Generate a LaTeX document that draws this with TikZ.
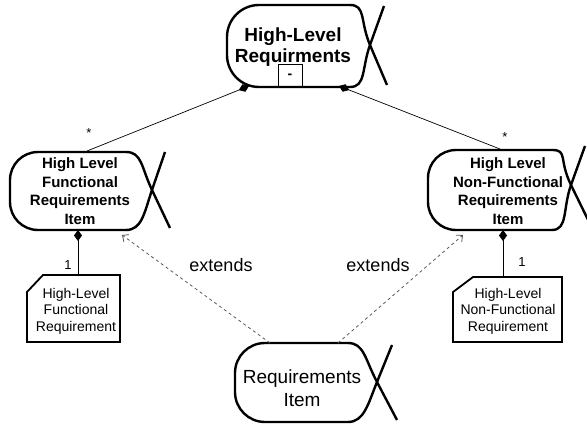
\documentclass[tikz,border=0pt]{standalone}
\usepackage{fontspec}
\setmainfont{Liberation Sans}
\usetikzlibrary{arrows.meta,calc,positioning}
% rounded body with a crossed tail: left, right, bottom, top, radius, crossing, top tip, bottom tip
\newcommand{\fishbody}[8]{%
  \draw[fishline,rounded corners=#5] (#2,#4) -- (#1,#4) -- (#1,#3) -- (#2,#3);
  \draw[fishline] (#2,#4) .. controls +(16,0) and ($#6!-0.6!#8$) .. #6 -- #8;
  \draw[fishline] (#2,#3) .. controls +(16,0) and ($#6!-0.6!#7$) .. #6 -- #7;
}

\begin{document}
\begin{tikzpicture}[x=1pt,y=1pt,>=Stealth,
  fishline/.style={line width=2.4pt,line join=round},
  reqbox/.style={line width=1.8pt},
  assoc/.style={line width=0.7pt},
  extline/.style={dashed,gray!70!black,line width=0.8pt,-{Straight Barb[length=5pt,width=9pt]}},
  topname/.style={font=\fontsize{19}{21}\selectfont\bfseries,align=center},
  itemname/.style={font=\fontsize{15}{18.5}\selectfont\bfseries,align=center},
  rootname/.style={font=\fontsize{19}{23}\selectfont,align=center},
  reqname/.style={font=\fontsize{14}{16.5}\selectfont,align=center},
  mult/.style={font=\fontsize{13}{13}\selectfont},
  compo/.style={assoc,{Diamond[length=11pt,width=8pt]}-}]
\useasboundingbox (0,0) rectangle (587,429);

% high-level requirements
\fishbody{227}{350}{342}{424}{32}{(370,384)}{(384,423)}{(387,344)}
\node[topname] (hlr) at (293,382) {High-Level\\Requirments};
\draw[assoc] (278,342) |- (302,365) -- (302,342);
\node[font=\fontsize{14}{14}\selectfont\bfseries] (vis) at (290,353) {-};
\coordinate (hlr-l) at (249,343);
\coordinate (hlr-r) at (339,343);

% functional item
\fishbody{10}{126}{199}{277}{28}{(152,239)}{(165,277)}{(170,201)}
\node[itemname] (hlf) at (80,238) {High Level\\Functional\\Requirements\\Item};
\coordinate (hlf-t) at (87,278);
\coordinate (hlf-b) at (78,199);
\coordinate (hlf-e) at (122,194);

% non-functional item
\fishbody{428}{552}{199}{279}{28}{(571,244)}{(585,283)}{(592,201)}
\node[itemname] (hlnf) at (508,238) {High Level\\Non-Functional\\Requirements\\Item};
\coordinate (hlnf-t) at (500,280);
\coordinate (hlnf-b) at (503,199);
\coordinate (hlnf-e) at (463,194);

% requirements item
\fishbody{235}{348}{7}{86}{30}{(377,47)}{(392,84)}{(397,9)}
\node[rootname] (ri) at (302,41) {Requirements\\Item};
\coordinate (ri-l) at (270,86);
\coordinate (ri-r) at (338,86);

% requirement boxes
\draw[reqbox] (43,154) -- (120,154) -- (120,87) -- (27,87) -- (27,137) -- cycle;
\node[reqname] (flr) at (76,118) {High-Level\\Functional\\Requirement};
\coordinate (flr-t) at (78,154);
\draw[reqbox] (473,152) -- (562,152) -- (562,87) -- (453,87) -- (453,137) -- cycle;
\node[reqname] (nflr) at (508,118) {High-Level\\Non-Functional\\Requirement};
\coordinate (nflr-t) at (503,152);

% compositions
\draw[compo] (hlr-l) -- (hlf-t);
\draw[compo] (hlr-r) -- (hlnf-t);
\draw[compo] (hlf-b) -- (flr-t);
\draw[compo] (hlnf-b) -- (nflr-t);
\node[mult] at (89,296) {*};
\node[mult] at (505,292) {*};
\node[mult] at (68,164) {1};
\node[mult] at (522,167) {1};

% extends
\draw[extline] (ri-l) -- (hlf-e);
\draw[extline] (ri-r) -- (hlnf-e);
\node[font=\fontsize{18}{18}\selectfont] (ext1) at (221,164) {extends};
\node[font=\fontsize{18}{18}\selectfont] (ext2) at (378,164) {extends};
\end{tikzpicture}
\end{document}
